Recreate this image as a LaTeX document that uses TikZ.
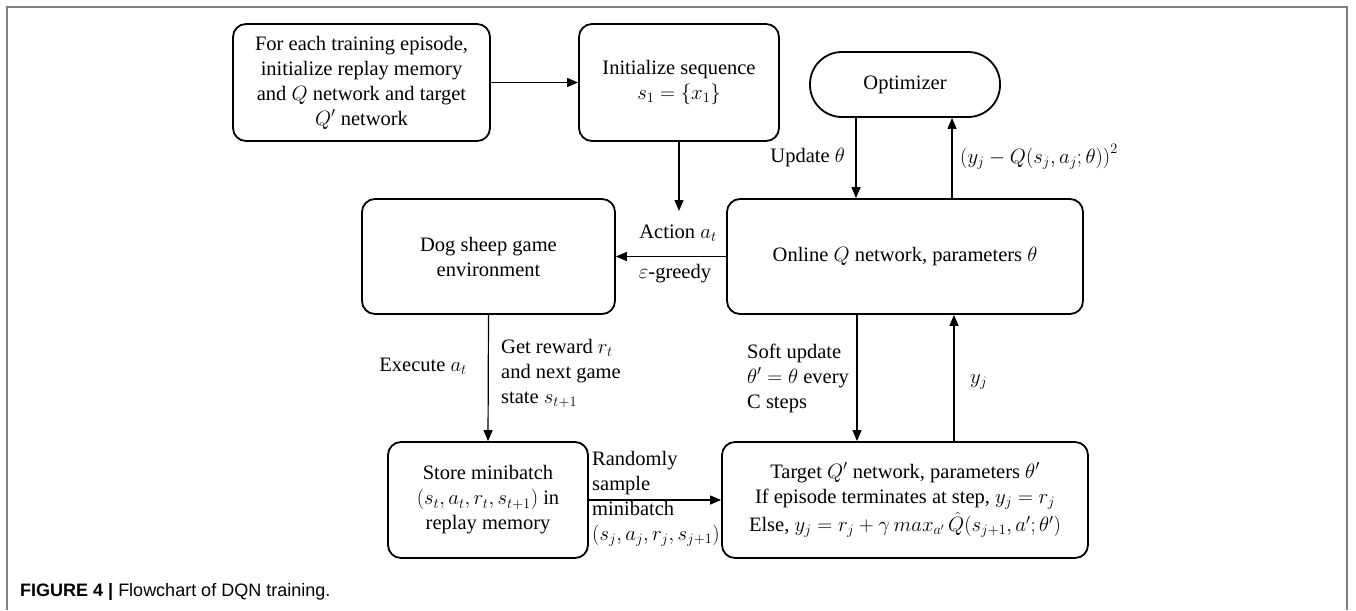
\documentclass[tikz,border=0pt]{standalone}
\usepackage{fontspec}
\setmainfont{Liberation Serif}
\newfontfamily\capfont{Liberation Sans}
\usetikzlibrary{arrows.meta,calc}
\tikzset{
  box/.style={draw, line width=1.8pt, rounded corners=13pt, align=center, inner sep=0pt},
  arr/.style={-{Triangle[length=11pt,width=9pt]}, line width=1.2pt},
  lbl/.style={inner sep=0pt, font=\fontsize{20.5}{25}\selectfont},
}
\begin{document}
\begin{tikzpicture}[x=1pt,y=-1pt, font=\fontsize{20.5}{25}\selectfont]
\useasboundingbox (0,0) rectangle (1356,610);
\fill[white] (0,0) rectangle (1356,610);
% frame
\draw[line width=1.5pt, black!50] (7,610) -- (7,7) -- (1347,7) -- (1347,610);
% boxes
\node[box, minimum width=257pt, minimum height=117pt] (init) at (361.5,82.5)
  {For each training episode,\\initialize replay memory\\and $Q$ network and target\\$Q'$ network};
\node[box, minimum width=200pt, minimum height=117pt] (seq) at (679,82.5)
  {Initialize sequence\\$s_1=\{x_1\}$};
\node[box, rounded corners=32pt, minimum width=190pt, minimum height=65pt] (opt) at (905,84.5)
  {Optimizer};
\node[box, minimum width=253pt, minimum height=115pt] (env) at (488.5,256.5)
  {Dog sheep game\\environment};
\node[box, minimum width=356pt, minimum height=115pt] (onl) at (905,256.5)
  {Online $Q$ network, parameters $\theta$};
\node[box, minimum width=200pt, minimum height=116pt] (mem) at (488,500)
  {Store minibatch\\$(s_t,a_t,r_t,s_{t+1})$ in\\replay memory};
\node[box, minimum width=366pt, minimum height=116pt] (tgt) at (905,500)
  {Target $Q'$ network, parameters $\theta'$\\If episode terminates at step, $y_j=r_j$\\[2pt]Else, $y_j=r_j+\gamma\, max_{a'}\,\hat{Q}(s_{j+1},a';\theta')$};
\coordinate (act) at (679,211);
% connectors
\draw[arr] (init.east) -- (seq.west);
\draw[arr] (seq.south) -- (act);
\draw[arr] (onl.west) -- (env.east);
\draw[arr] ([xshift=-49pt]opt.south) -- ([xshift=-49pt]onl.north);
\draw[arr] ([xshift=47pt]onl.north) -- ([xshift=47pt]opt.south);
\draw[arr] (env.south) -- (mem.north);
\draw[arr] (mem.east) -- (tgt.west);
\draw[arr] ([xshift=-48pt]onl.south) -- ([xshift=-48pt]tgt.north);
\draw[arr] ([xshift=49pt]tgt.north) -- ([xshift=49pt]onl.south);
% labels
\node[lbl, anchor=east] (lupd) at (845,157) {Update $\theta$};
\node[lbl, anchor=west] (lloss) at (960,157) {$\Bigl(y_j-Q\bigl(s_j,a_j;\theta\bigr)\Bigr)^{\scriptstyle 2}$};
\node[lbl] (lact) at (678,233) {Action $a_t$};
\node[lbl] (lgr) at (675,274) {$\varepsilon$-greedy};
\node[lbl, anchor=east] (lexe) at (467,366) {Execute $a_t$};
\node[lbl, anchor=west, align=left] (lrew) at (501,373) {Get reward $r_t$\\and next game\\state $s_{t+1}$};
\node[lbl, anchor=west, align=left] (lrnd) at (592,499) {Randomly\\sample\\minibatch\\$(s_j,a_j,r_j,s_{j+1})$};
\node[lbl, anchor=west, align=left] (lsoft) at (747,378) {Soft update\\$\theta'=\theta$ every\\C steps};
\node[lbl, anchor=west] (lyj) at (970,382) {$y_j$};
% caption
\node[anchor=west, inner sep=0pt, font=\capfont\fontsize{18}{22}\selectfont] (cap) at (20,592)
  {\textbf{FIGURE 4 |} Flowchart of DQN training.};
\end{tikzpicture}
\end{document}
